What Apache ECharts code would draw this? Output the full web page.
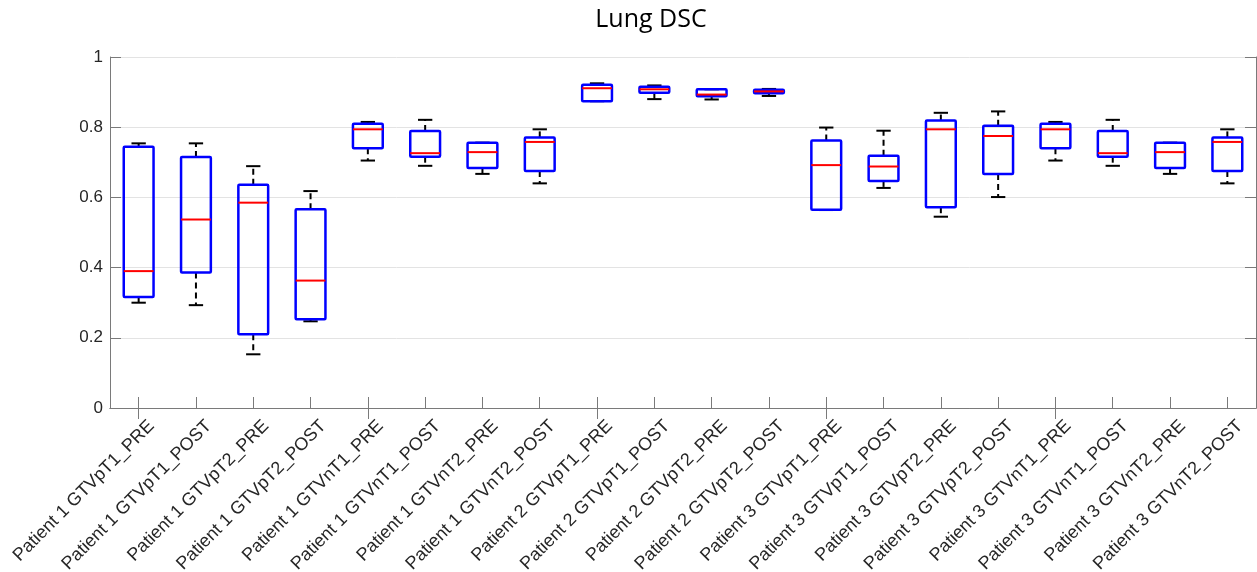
<!DOCTYPE html>
<html>
<head>
<meta charset="utf-8">
<script src="https://cdn.jsdelivr.net/npm/echarts@6/dist/echarts.min.js"></script>
<style>
html,body{margin:0;padding:0;background:#fff;}
#chart{width:1257px;height:572px;}
</style>
</head>
<body>
<div id="chart"></div>
<script>
var categories = [
  'Patient 1 GTVpT1_PRE','Patient 1 GTVpT1_POST','Patient 1 GTVpT2_PRE','Patient 1 GTVpT2_POST',
  'Patient 1 GTVnT1_PRE','Patient 1 GTVnT1_POST','Patient 1 GTVnT2_PRE','Patient 1 GTVnT2_POST',
  'Patient 2 GTVpT1_PRE','Patient 2 GTVpT1_POST','Patient 2 GTVpT2_PRE','Patient 2 GTVpT2_POST',
  'Patient 3 GTVpT1_PRE','Patient 3 GTVpT1_POST','Patient 3 GTVpT2_PRE','Patient 3 GTVpT2_POST',
  'Patient 3 GTVnT1_PRE','Patient 3 GTVnT1_POST','Patient 3 GTVnT2_PRE','Patient 3 GTVnT2_POST'
];
var whiskerLow = [0.300,0.293,0.153,0.247, 0.705,0.690,0.667,0.640, 0.874,0.880,0.879,0.889, 0.564,0.627,0.545,0.601, 0.705,0.690,0.667,0.640];
var q1 =         [0.316,0.386,0.210,0.253, 0.740,0.716,0.684,0.675, 0.874,0.898,0.888,0.897, 0.565,0.647,0.572,0.667, 0.740,0.716,0.684,0.675];
var median =     [0.390,0.537,0.585,0.363, 0.794,0.726,0.729,0.758, 0.911,0.908,0.893,0.902, 0.692,0.688,0.794,0.775, 0.794,0.726,0.729,0.758];
var q3 =         [0.744,0.715,0.636,0.566, 0.810,0.789,0.756,0.771, 0.921,0.915,0.908,0.907, 0.762,0.719,0.819,0.804, 0.810,0.789,0.756,0.771];
var whiskerHigh =[0.754,0.754,0.689,0.618, 0.815,0.821,0.756,0.794, 0.925,0.919,0.908,0.909, 0.799,0.790,0.841,0.845, 0.815,0.821,0.756,0.794];
var yTicks = [0, 0.2, 0.4, 0.6, 0.8, 1];

var data = categories.map(function (c, i) {
  return [i, whiskerLow[i], q1[i], median[i], q3[i], whiskerHigh[i]];
});

function renderItem(params, api) {
  var i = api.value(0);
  var band = api.size([1, 0])[0];
  var x = api.coord([i, 0])[0];
  var yLo = api.coord([i, api.value(1)])[1];
  var yQ1 = api.coord([i, api.value(2)])[1];
  var yMed = api.coord([i, api.value(3)])[1];
  var yQ3 = api.coord([i, api.value(4)])[1];
  var yHi = api.coord([i, api.value(5)])[1];
  var bw = band * 0.52 / 2;
  var cw = band * 0.25 / 2;
  var children = [];
  var dashStyle = {stroke: '#000', lineWidth: 2, lineDash: [6, 4]};
  if (yHi < yQ3 - 0.5) children.push({type: 'line', shape: {x1: x, y1: yQ3, x2: x, y2: yHi}, style: dashStyle});
  if (yLo > yQ1 + 0.5) children.push({type: 'line', shape: {x1: x, y1: yQ1, x2: x, y2: yLo}, style: dashStyle});
  children.push({type: 'line', shape: {x1: x - cw, y1: yHi, x2: x + cw, y2: yHi}, style: {stroke: '#000', lineWidth: 2}});
  children.push({type: 'line', shape: {x1: x - cw, y1: yLo, x2: x + cw, y2: yLo}, style: {stroke: '#000', lineWidth: 2}});
  children.push({type: 'rect', shape: {x: x - bw, y: yQ3, width: bw * 2, height: yQ1 - yQ3, r: 1},
    style: {fill: 'none', stroke: '#0000ff', lineWidth: 2.5}});
  children.push({type: 'line', shape: {x1: x - bw, y1: yMed, x2: x + bw, y2: yMed}, style: {stroke: '#ff0000', lineWidth: 2}});
  return {type: 'group', children: children};
}

var chart = echarts.init(document.getElementById('chart'), null, {renderer: 'canvas'});
var axisGray = '#7a7a7a';
var labelFont = 'Liberation Sans, Arial, sans-serif';
var tickStyle = {show: true, inside: true, alignWithLabel: true, length: 11, lineStyle: {color: axisGray, width: 1}};
chart.setOption({
  animation: false,
  backgroundColor: '#fff',
  title: {
    text: 'Lung DSC', left: 646, top: 2, textAlign: 'center',
    textStyle: {fontFamily: 'Open Sans, sans-serif', fontSize: 25, fontWeight: 'normal', color: '#000'}
  },
  grid: {left: 110, top: 57, width: 1146, height: 351, show: false, containLabel: false, outerBoundsMode: 'none'},
  xAxis: [{
    type: 'category', data: categories, boundaryGap: true, position: 'bottom',
    axisLine: {show: true, lineStyle: {color: axisGray}},
    axisTick: tickStyle,
    axisLabel: {rotate: 45, margin: 28, interval: 0, color: '#262626', fontFamily: labelFont, fontSize: 18,
      verticalAlign: 'middle', padding: [0, -18, 0, 0]},
    splitLine: {show: false}
  }, {
    type: 'category', data: categories, boundaryGap: true, position: 'top',
    axisLine: {show: true, lineStyle: {color: axisGray}},
    axisTick: tickStyle,
    axisLabel: {show: false}
  }],
  yAxis: [{
    type: 'value', min: 0, max: 1, interval: 0.2, position: 'left',
    axisLine: {show: true, lineStyle: {color: axisGray}},
    axisTick: tickStyle,
    axisLabel: {color: '#262626', fontFamily: labelFont, fontSize: 17, margin: 7,
      formatter: function (v) { return yTicks.indexOf(Math.round(v * 10) / 10) >= 0 ? String(Math.round(v * 10) / 10) : ''; }},
    splitLine: {show: true, lineStyle: {color: '#e3e3e3', width: 1}}
  }, {
    type: 'value', min: 0, max: 1, interval: 0.2, position: 'right',
    axisLine: {show: true, lineStyle: {color: axisGray}},
    axisTick: tickStyle,
    axisLabel: {show: false}, splitLine: {show: false}
  }],
  series: [{
    type: 'custom', renderItem: renderItem, data: data,
    encode: {x: 0, y: [1, 2, 3, 4, 5]}, clip: false, z: 5
  }]
});
</script>
</body>
</html>
